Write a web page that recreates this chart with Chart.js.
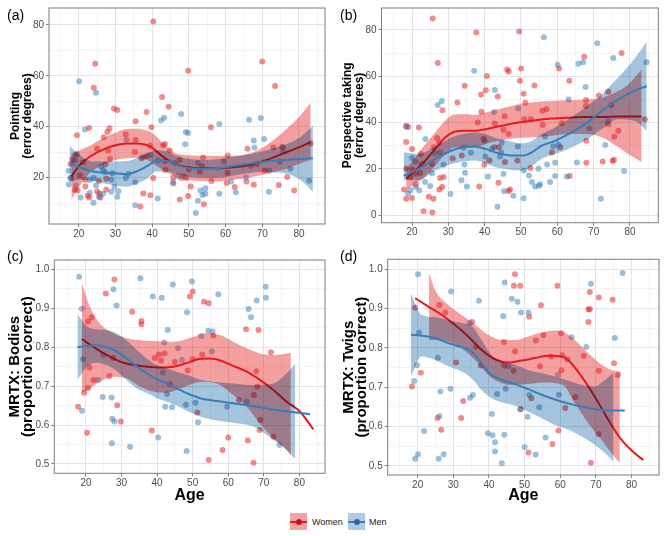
<!DOCTYPE html>
<html>
<head>
<meta charset="utf-8">
<script src="https://cdn.jsdelivr.net/npm/chart.js@4.4.1/dist/chart.umd.min.js"></script>
<style>
  body { margin: 0; background: #fff; width: 670px; height: 536px; position: relative; overflow: hidden;
         font-family: "Liberation Sans", Arial, sans-serif; }
  canvas { position: absolute; }
  .tag { position: absolute; font-size: 14px; line-height: 16px; color: #000; }
  .legend { position: absolute; top: 512px; left: 0; width: 670px; height: 19px; }
  .key { position: absolute; top: 1px; width: 17px; height: 17px; }
  .key .ln { position: absolute; left: 0; top: 7.5px; width: 17px; height: 2px; }
  .key .dot { position: absolute; left: 5.5px; top: 5.5px; width: 6px; height: 6px; border-radius: 50%; }
  .lab { position: absolute; top: 4px; font-size: 9px; line-height: 12px; color: #222; }
</style>
</head>
<body>
<canvas id="chartA" width="335" height="245" style="left:0;top:0"></canvas>
<canvas id="chartB" width="335" height="245" style="left:335px;top:0"></canvas>
<canvas id="chartC" width="335" height="265" style="left:0;top:245px"></canvas>
<canvas id="chartD" width="335" height="265" style="left:335px;top:245px"></canvas>
<div class="tag" style="left:7px;top:7px">(a)</div>
<div class="tag" style="left:340px;top:7px">(b)</div>
<div class="tag" style="left:7px;top:248px">(c)</div>
<div class="tag" style="left:340px;top:248px">(d)</div>
<div class="legend">
  <div class="key" style="left:290px;background:rgba(228,26,28,0.4)"><div class="ln" style="background:#E41A1C"></div><div class="dot" style="background:#c0151a"></div></div>
  <div class="lab" style="left:312px">Women</div>
  <div class="key" style="left:348px;background:rgba(55,126,184,0.4)"><div class="ln" style="background:#377EB8"></div><div class="dot" style="background:#2d6a9c"></div></div>
  <div class="lab" style="left:369px">Men</div>
</div>
<script>
// ---- tick values ----
const ageTicks = [20, 30, 40, 50, 60, 70, 80];
const ageMinor = [15, 25, 35, 45, 55, 65, 75, 85];
const errTicksA = [20, 40, 60, 80];
const errMinorA = [10, 30, 50, 70];
const errTicksB = [0, 20, 40, 60, 80];
const errMinorB = [10, 30, 50, 70];
const propTicks = [0.5, 0.6, 0.7, 0.8, 0.9, 1.0];
const propMinor = [0.55, 0.65, 0.75, 0.85, 0.95];

// ---- (a) Pointing: [age, error] ----
const pointingWomen = [[40.3,81.3],[24.5,64.7],[49.8,62],[70,65.6],[73.5,56],[24.1,55.3],[42.7,51.7],[44.5,47.8],[29.6,47.1],[30.5,46.6],[38.5,45.8],[35.5,42.1],[19.5,36.6],[22.8,39.5],[28.4,39.4],[27.8,37.9],[39.8,39.8],[56,39.8],[32.8,37],[26.8,35.9],[35.5,34.8],[43.5,33.2],[43,32.7],[66,31.3],[73,31.8],[75.5,31.9],[83.2,33.4],[25,31.3],[28,30.7],[35.3,30.1],[39.5,32.5],[44.8,30.7],[60.6,28.7],[19.5,29.2],[18.3,27.2],[28.5,27.3],[37.1,27.6],[38.5,28.5],[43.5,26.5],[47.5,26.9],[53.9,27.9],[68.5,25.4],[17.8,25.4],[21.2,26],[27.3,25.3],[43.6,23],[50,23.3],[53,22.4],[53.6,24.5],[60.6,21.8],[70.7,22.8],[17.9,19.9],[20.3,20.8],[21.8,19.2],[25.5,18.7],[27.5,19.6],[40.3,19.9],[45.8,20.1],[48,19.9],[49.2,19.9],[60.3,17.9],[62.5,16.3],[65.7,18.5],[67.7,17.2],[74.5,17.1],[76.8,20.3],[78.7,15],[56.2,18.7],[19,15.2],[19.7,15],[21.8,16.5],[22.4,12.9],[22.9,12.2],[25,14.6],[25.7,13.7],[25.9,12.2],[27.5,15.2],[37.6,13.8],[39.5,13.1],[45.8,17.7],[47.5,11.4],[49.8,12.8],[50.5,16.5],[54.1,9.6],[36.8,8.7]];
const pointingMen = [[20.1,57.8],[24.7,53.3],[21.7,38.9],[42.4,42.4],[43.3,43.5],[47.9,45],[49.2,37.9],[49.8,37.5],[49,33.1],[58.3,41.1],[66.4,42.7],[69.6,43.4],[67.7,34.6],[70.5,35.2],[67.9,31.8],[75.5,32.1],[75.8,30.1],[33,34.9],[37.5,28.1],[39.5,28.9],[41.6,26.8],[19.3,29.1],[19,26.7],[17.2,22.7],[26.2,24.4],[26.6,23.1],[27.2,22.1],[29.1,21.7],[33.6,21.5],[32.8,19.9],[28.9,19.2],[24.1,19.9],[23,19.1],[17.7,19.9],[17.3,17.3],[19.2,17],[24.7,16.9],[29.7,16.4],[28.9,14.5],[30.8,14.7],[30.5,12.5],[26.6,13.7],[25.5,12.5],[23,14.1],[20.5,12.2],[24,10.1],[35.4,9.2],[35.4,18.2],[41.5,11.8],[45.7,18.3],[47.1,20.5],[48.6,20.6],[52.5,25.7],[53.2,15],[53.7,13.2],[54.5,15.8],[54.5,13.7],[52.5,10.9],[51.9,6.1],[58.3,13.7],[59.6,26.3],[61.5,18.5],[62.8,14.3],[65.6,20.1],[67,24.6],[71.8,14.5],[71.9,22.8],[77.7,23.5],[82.8,18.8],[74.8,26.3],[46.2,25.7]];
const pointingWomenAge = [18, 20.3, 23, 26.6, 30.3, 33, 35.7, 38.5, 40.3, 43, 45.7, 48.5, 53, 57.5, 62, 66.6, 71.2, 75.7, 80.3, 83.2];
const pointingWomenFit = [20.5, 25, 28.2, 31, 32.8, 33.4, 33.4, 32.8, 31.4, 28.2, 25.7, 24.4, 23.7, 23.7, 24.1, 25, 26.9, 29.5, 32.1, 34];
const pointingWomenHi = [29.5, 30.8, 32.5, 35.5, 37.8, 39.1, 39.2, 38.5, 37.2, 33.4, 30.1, 29, 28.6, 28.6, 28.6, 29.5, 32.7, 37.9, 44.3, 49.5];
const pointingWomenLo = [11.3, 16.7, 21.8, 25, 27, 27.6, 27.8, 27, 25.5, 23, 20.8, 19.4, 18.7, 18.6, 19.2, 20.1, 21.4, 23.1, 25.6, 27];
const pointingMenAge = [17.5, 20.3, 24, 28.5, 33, 35.7, 38.5, 41.2, 44, 46.6, 50.3, 54.8, 59.4, 63.9, 69.4, 75.7, 80.3, 83.8];
const pointingMenFit = [25.5, 24.1, 22.4, 21.8, 21.4, 22.4, 24.4, 26.5, 26.5, 25, 23.7, 23.5, 24, 25, 26, 26.9, 27.3, 27.6];
const pointingMenHi = [32.5, 28.9, 26.3, 26.3, 26.5, 27.6, 29.5, 30.8, 30.4, 28.6, 27.3, 26.9, 27.6, 28.6, 30.1, 32.7, 35.9, 40.4];
const pointingMenLo = [18, 19.2, 18.6, 17.3, 16.4, 17.6, 19.5, 22.4, 22.4, 21.2, 20.3, 19.9, 20.1, 21.2, 22.2, 21.8, 19.2, 14.5];

// ---- (b) Perspective taking ----
const perspWomen = [[25.7,85],[37.7,78.9],[49.5,79.3],[27.1,65.7],[77.7,70],[67.4,68.4],[46.2,62.9],[46.6,62.1],[50,63.3],[60.5,63.3],[40.6,60.1],[49.7,58.1],[63.3,58.1],[34.5,55.9],[53.7,56],[40.3,53.9],[39,52.1],[43.6,51.3],[50.7,52.4],[51.2,48.6],[71.4,51.7],[74,53.3],[32.5,48.7],[28.4,45.3],[39.1,44.7],[55.9,45.1],[57,45.7],[45.5,42.7],[67.9,49.7],[67.9,47.1],[74.9,47.6],[18.4,38.6],[19,38.1],[21.9,37.9],[18.4,31.6],[20,28.6],[26.9,33.3],[27.5,31.4],[26,29.3],[38.1,40],[42.8,39.6],[50.9,41.4],[52.7,41.4],[56,38.9],[61.2,39.7],[39.7,32.9],[43.9,29.3],[45.2,36.9],[46.6,35],[60.8,29.3],[58.5,27],[68,32.1],[74,39.3],[76.8,36.4],[75.7,33.9],[84.1,41.4],[22.4,26.4],[25.5,22.1],[22.2,18.3],[18.4,20],[20.1,19.6],[21,17.9],[19.5,16.4],[21.1,13.3],[31.2,24.6],[33.7,25.7],[39.9,21.7],[41.3,23.6],[45.6,22.9],[49,23.6],[52.6,20.3],[68,22.6],[72.5,23.1],[75.2,23.4],[75.6,23.9],[63.4,16.9],[27.7,16],[28.3,12.1],[38.5,12.4],[43.8,14],[47,11.1],[46.6,10.4],[17.8,11.1],[20,7.4],[18.4,7],[24.6,7.9],[25.9,7],[27.5,11.1],[23.2,1.7],[25.6,1.1],[28.7,16.4],[42.6,29.3],[22.7,22.1]];
const perspMen = [[56.3,76.9],[71,74.3],[75.4,67.9],[84.6,66],[65.8,65.4],[67.1,66],[60.1,65],[37.1,62.4],[42.8,54.1],[67.8,55.3],[63.1,50],[28.2,49.3],[27.1,47.6],[49.2,46.1],[42.6,44.6],[18.4,38.1],[23.7,32.9],[34.2,29.1],[56.6,34],[73.2,30.3],[68.8,37.4],[74,40.4],[49.1,29.6],[60.3,30.4],[58.9,29.6],[40,32.1],[42,28.6],[40.2,25.3],[44.2,25.3],[44.5,27.1],[44.7,31.4],[27.7,27.1],[36.2,26.9],[34.4,21.9],[28.7,21.7],[20,24.7],[21,23.1],[25.5,18.1],[34.6,18.3],[45.2,17.9],[50.8,19.3],[54.8,20],[57.2,21.9],[59.4,22.6],[65.4,22.7],[78.4,19],[40.9,16.7],[52.2,17.1],[62.6,16.7],[59.4,16.9],[23.6,14.3],[25,12.6],[21,12.1],[22,10.7],[19.5,10.7],[18.9,9.3],[33.6,15],[35.1,12.4],[30.6,9.1],[45.4,10.3],[47.9,8.4],[50.7,7.3],[53,14.3],[53.9,12.4],[54.9,12.7],[55.3,13.3],[58,14.3],[72,7.1],[43.5,3.6],[26.2,26.7]];
const perspWomenAge = [18.4, 20.9, 23.7, 26.4, 29.2, 31.9, 34.7, 37.4, 40.2, 44.7, 49.3, 53.9, 58.5, 63, 67.6, 72.2, 76.8, 79.5, 83.2];
const perspWomenFit = [15.7, 19.3, 23.6, 28.6, 33.6, 36.1, 36.4, 36.4, 37.1, 38.6, 40, 41, 41.7, 42.1, 42.4, 42.4, 42.6, 42.6, 42.6];
const perspWomenHi = [20, 25, 30.7, 35.7, 41, 43.6, 43.6, 43.3, 44.3, 46.1, 47.9, 48.9, 49.3, 49.6, 50, 50.7, 53.6, 56.4, 62.9];
const perspWomenLo = [10.7, 13.6, 16.9, 21.4, 26.4, 29.3, 29.3, 29.3, 30.7, 32.4, 33.3, 33.6, 34.3, 35, 35, 33.6, 29.3, 26.4, 22.9];
const perspMenAge = [17.7, 21.8, 26.4, 31, 34.2, 37.4, 40.2, 42.9, 45.6, 48.4, 50.7, 53, 55.7, 59.4, 63, 67.6, 72.2, 76.8, 81.4, 84.6];
const perspMenFit = [16.9, 20, 24.3, 27.9, 29.3, 29.6, 28.6, 27.1, 26.1, 25.7, 25.7, 27.1, 30, 32.1, 35, 39.3, 45, 50, 53.9, 55.7];
const perspMenHi = [27.1, 26.4, 29.6, 33.6, 35, 35.7, 35, 33.3, 32.4, 31.4, 31, 32.1, 35, 37.9, 41.4, 46.4, 52.1, 59.6, 67.9, 75];
const perspMenLo = [15, 15, 19.3, 22.1, 23.3, 23.6, 22.4, 20.7, 20, 19.3, 19.3, 21.1, 24.3, 26.4, 28.6, 32.1, 37.1, 41.4, 40.7, 36.4];

// ---- (c) MRTX: Bodies ----
const bodiesWomen = [[28,0.974],[25.6,0.938],[33,0.891],[35.6,0.867],[35.6,0.859],[50,0.943],[49.2,0.930],[53.2,0.917],[54.5,0.913],[65,0.846],[68.5,0.844],[55.8,0.830],[72,0.787],[21.6,0.877],[20.6,0.866],[39.3,0.772],[40.5,0.781],[42.1,0.784],[27.7,0.772],[50,0.769],[45,0.762],[48.6,0.740],[52.7,0.781],[41.1,0.765],[21,0.748],[26.6,0.726],[22.1,0.716],[20.6,0.695],[19.5,0.683],[43.6,0.705],[67.9,0.738],[68.2,0.699],[67.2,0.677],[17.8,0.647],[28.8,0.651],[29.8,0.609],[20.3,0.580],[38.5,0.586],[51.3,0.632],[60,0.568],[58.4,0.536],[54.5,0.510],[65.5,0.560],[69,0.613],[68.8,0.587],[67.1,0.503],[72.7,0.570],[63,0.664]];
const bodiesMen = [[18.1,0.981],[35.3,0.977],[44.4,0.961],[49.8,0.969],[27.7,0.949],[57.2,0.936],[70.5,0.955],[70.6,0.927],[38.8,0.930],[41.3,0.927],[28.6,0.907],[68,0.920],[18.8,0.899],[48.4,0.890],[65.7,0.898],[66.4,0.877],[43,0.844],[54.4,0.842],[55.6,0.840],[52.4,0.829],[42,0.812],[45.9,0.797],[47,0.767],[55.4,0.789],[24.9,0.780],[19.2,0.769],[41.6,0.735],[23.4,0.716],[42.8,0.680],[24.7,0.672],[27.2,0.671],[42.3,0.647],[44.2,0.646],[48.1,0.652],[50.8,0.657],[59.7,0.647],[65.2,0.660],[18.9,0.637],[27.4,0.616],[28,0.609],[51.5,0.607],[27.3,0.553],[40.3,0.568],[32.4,0.544],[48.3,0.533],[74.4,0.549]];
const bodiesWomenAge = [18.8, 22.1, 25.8, 29.6, 33.3, 37.1, 40.8, 44.6, 48.3, 52.1, 54.9, 57.7, 61.4, 65.2, 68.9, 72.7, 76.4, 80.2, 83.9];
const bodiesWomenFit = [0.821, 0.801, 0.780, 0.763, 0.754, 0.750, 0.748, 0.750, 0.759, 0.770, 0.771, 0.766, 0.752, 0.737, 0.716, 0.690, 0.660, 0.634, 0.589];
const bodiesWomenBandAge = [18.8, 21.1, 23.9, 27.7, 31.4, 35.2, 38.9, 42.7, 46.4, 50.2, 53.9, 57.7, 61.4, 65.2, 68.9, 72.7, 76.4, 77.6];
const bodiesWomenHi = [0.964, 0.904, 0.861, 0.836, 0.823, 0.818, 0.816, 0.814, 0.816, 0.827, 0.836, 0.831, 0.814, 0.797, 0.784, 0.780, 0.784, 0.786];
const bodiesWomenLo = [0.682, 0.694, 0.711, 0.724, 0.720, 0.699, 0.686, 0.683, 0.693, 0.707, 0.711, 0.703, 0.677, 0.647, 0.604, 0.566, 0.536, 0.521];
const bodiesMenAge = [17.6, 20.2, 23, 25.8, 28.6, 31.4, 34.3, 37.1, 39.9, 42.7, 45.5, 48.3, 52.1, 55.8, 61.4, 67.1, 72.7, 77.4, 83];
const bodiesMenFit = [0.800, 0.803, 0.805, 0.800, 0.789, 0.771, 0.750, 0.733, 0.718, 0.707, 0.694, 0.682, 0.669, 0.663, 0.656, 0.649, 0.639, 0.634, 0.628];
const bodiesMenBandAge = [17.6, 20.2, 23, 25.8, 28.6, 31.4, 34.3, 37.1, 39.9, 42.7, 45.5, 48.3, 52.1, 55.8, 61.4, 67.1, 72.7, 76.4, 78.8];
const bodiesMenHi = [0.885, 0.854, 0.846, 0.844, 0.836, 0.818, 0.793, 0.771, 0.754, 0.746, 0.737, 0.729, 0.717, 0.711, 0.707, 0.703, 0.707, 0.733, 0.757];
const bodiesMenLo = [0.716, 0.750, 0.760, 0.754, 0.739, 0.716, 0.694, 0.682, 0.669, 0.660, 0.650, 0.637, 0.622, 0.613, 0.606, 0.596, 0.562, 0.536, 0.513];

// ---- (d) MRTX: Twigs ----
const twigsWomen = [[47.3,0.987],[47,0.958],[48.8,0.958],[59.2,0.958],[68.3,0.942],[70.8,0.928],[74.7,0.922],[26.1,0.909],[54.6,0.908],[67.9,0.898],[68.3,0.898],[19.3,0.902],[27.7,0.890],[51.3,0.879],[35.3,0.866],[67.9,0.866],[55.3,0.832],[60.2,0.837],[53.2,0.819],[44.2,0.815],[36.4,0.803],[47.3,0.791],[60.6,0.781],[66.6,0.780],[57.4,0.778],[62,0.771],[30.8,0.763],[37.7,0.755],[44.3,0.755],[54.3,0.753],[75.1,0.761],[60.4,0.743],[46.9,0.742],[70.8,0.742],[76.2,0.731],[20.9,0.737],[18.4,0.702],[64.2,0.675],[51.9,0.672],[32.8,0.665],[48.8,0.644],[61.4,0.647],[25.6,0.622],[32.2,0.622],[26.6,0.592],[59.5,0.590],[70.8,0.581],[57.8,0.556],[51.1,0.534],[68.6,0.508]];
const twigsMen = [[20.1,0.987],[77.5,0.990],[44.4,0.966],[68.6,0.963],[29.4,0.943],[37.2,0.920],[46.4,0.925],[48,0.917],[49,0.890],[51.1,0.890],[44,0.880],[34.6,0.864],[20.4,0.839],[63.2,0.827],[75.3,0.825],[67.3,0.802],[25.7,0.775],[19.8,0.756],[45.5,0.754],[59.4,0.732],[19,0.716],[44.7,0.696],[29.2,0.696],[42.3,0.683],[26.4,0.689],[59.6,0.681],[35.5,0.680],[34.7,0.673],[51.3,0.680],[54.1,0.649],[48.9,0.644],[50.8,0.625],[26.1,0.627],[40.8,0.632],[21.8,0.589],[39.7,0.583],[41,0.578],[44.3,0.579],[55.9,0.572],[41.7,0.560],[41.7,0.537],[50,0.548],[53.1,0.529],[20.1,0.530],[19.3,0.518],[25.9,0.518],[27.3,0.530],[43.6,0.507]];
const twigsWomenAge = [19.3, 23, 26.7, 30.5, 34.2, 37.9, 41.7, 45.4, 49.2, 52.9, 56.6, 60.4, 62.2, 66, 69.7, 73.5, 77.2, 80.9, 83.3];
const twigsWomenFit = [0.926, 0.905, 0.884, 0.858, 0.829, 0.795, 0.771, 0.763, 0.768, 0.774, 0.780, 0.778, 0.769, 0.727, 0.676, 0.617, 0.566, 0.532, 0.515];
const twigsWomenBandAge = [23.2, 24.9, 28.6, 32.3, 36.1, 39.8, 43.6, 47.3, 51, 54.8, 58.5, 61.3, 64.1, 67.9, 71.6, 74.4, 76.7];
const twigsWomenHi = [0.990, 0.947, 0.909, 0.884, 0.858, 0.833, 0.820, 0.820, 0.829, 0.839, 0.844, 0.839, 0.820, 0.786, 0.757, 0.744, 0.740];
const twigsWomenLo = [0.820, 0.820, 0.816, 0.799, 0.769, 0.731, 0.710, 0.706, 0.708, 0.712, 0.710, 0.702, 0.659, 0.608, 0.566, 0.532, 0.507];
const twigsMenAge = [18.1, 21.1, 24.9, 28.6, 32.3, 35.1, 37.9, 40.7, 43.6, 47.3, 51, 54.8, 58.5, 62.2, 66, 69.7, 73.5, 78.1];
const twigsMenFit = [0.833, 0.831, 0.825, 0.812, 0.802, 0.791, 0.761, 0.731, 0.719, 0.708, 0.695, 0.681, 0.669, 0.659, 0.651, 0.644, 0.641, 0.641];
const twigsMenBandAge = [18.1, 21.1, 24.9, 28.6, 32.3, 35.1, 37.9, 40.7, 43.6, 47.3, 51, 54.8, 58.5, 62.2, 66, 69.7, 72.6, 74.9];
const twigsMenHi = [0.939, 0.884, 0.878, 0.871, 0.863, 0.856, 0.820, 0.782, 0.765, 0.757, 0.744, 0.736, 0.727, 0.717, 0.706, 0.702, 0.719, 0.736];
const twigsMenLo = [0.727, 0.778, 0.769, 0.753, 0.740, 0.723, 0.693, 0.672, 0.662, 0.653, 0.638, 0.621, 0.604, 0.592, 0.575, 0.553, 0.532, 0.511];

// ---- styling ----
const FONT = '"Liberation Sans", Arial, sans-serif';
const RED = '228,26,28';
const BLUE = '55,126,184';
const GRID_MAJOR = '#e4e4e4';
const GRID_MINOR = '#f1f1f1';
const FRAME = '#7d7d7d';
const TICK_TEXT = '#4d4d4d';

Chart.defaults.font.family = FONT;
Chart.defaults.animation = false;

const toPoints = (pairs) => pairs.map(([x, y]) => ({x, y}));
const zipXY = (xs, ys) => xs.map((x, i) => ({x, y: ys[i]}));

function makeTicks(major, minor) {
    return major.map(v => ({value: v, main: true}))
        .concat(minor.map(v => ({value: v, main: false})))
        .sort((a, b) => a.value - b.value);
}

// draws the panel frame and multiplies the Men ribbon over what is below it
const panelPlugin = {
    id: 'panel',
    afterDatasetDraw(chart, args) {
        const ds = chart.data.datasets[args.index];
        if (ds.blendStart) chart.ctx.globalCompositeOperation = 'multiply';
        if (ds.blendEnd) chart.ctx.globalCompositeOperation = 'source-over';
    },
    afterDatasetsDraw(chart) {
        const {ctx, chartArea} = chart;
        ctx.save();
        ctx.globalCompositeOperation = 'source-over';
        ctx.strokeStyle = FRAME;
        ctx.lineWidth = 1;
        ctx.strokeRect(chartArea.left, chartArea.top, chartArea.right - chartArea.left, chartArea.bottom - chartArea.top);
        ctx.restore();
    }
};

function scatterSet(pairs, rgb, order) {
    return {data: toPoints(pairs), showLine: false, pointRadius: 3, pointHoverRadius: 3,
            pointBorderWidth: 0, backgroundColor: 'rgba(' + rgb + ',0.5)', borderColor: 'rgba(0,0,0,0)', order};
}

function curveSet(xs, ys, extra) {
    return Object.assign({data: zipXY(xs, ys), pointRadius: 0, borderWidth: 0,
            cubicInterpolationMode: 'monotone', fill: false}, extra);
}

function buildPanel(id, p) {
    const datasets = [
        scatterSet(p.women, RED, 9),
        scatterSet(p.men, BLUE, 8),
        curveSet(p.wBandAge, p.wHi, {order: 7}),
        curveSet(p.wBandAge, p.wLo, {order: 6, fill: '-1', backgroundColor: 'rgba(' + RED + ',0.42)'}),
        curveSet(p.wAge, p.wFit, {order: 5, borderWidth: 2, borderColor: 'rgb(' + RED + ')'}),
        curveSet(p.mBandAge, p.mHi, {order: 4, blendStart: true}),
        curveSet(p.mBandAge, p.mLo, {order: 3, fill: '-1', backgroundColor: 'rgba(' + BLUE + ',0.45)', blendEnd: true}),
        curveSet(p.mAge, p.mFit, {order: 2, borderWidth: 2, borderColor: 'rgb(' + BLUE + ')'})
    ];

    const gridOpts = {
        color: c => (c.tick && c.tick.main) ? GRID_MAJOR : GRID_MINOR,
        lineWidth: c => (c.tick && c.tick.main) ? 1 : 0.8,
        tickColor: c => (c.tick && c.tick.main) ? FRAME : 'rgba(0,0,0,0)',
        tickLength: 3,
        drawTicks: true
    };

    new Chart(document.getElementById(id), {
        type: 'line',
        data: {datasets},
        options: {
            responsive: false,
            layout: {padding: {left: 0, right: p.padRight, top: p.padTop, bottom: 0}},
            plugins: {legend: {display: false}, tooltip: {enabled: false}},
            scales: {
                x: {
                    type: 'linear', min: p.xMin, max: p.xMax,
                    afterBuildTicks: s => { s.ticks = makeTicks(ageTicks, ageMinor); },
                    afterFit: s => { s.height = p.xAxisH; },
                    grid: gridOpts,
                    border: {display: false},
                    ticks: {autoSkip: false, maxRotation: 0, padding: 1, color: TICK_TEXT, font: {size: 10},
                            callback: (v, i, t) => t[i].main ? String(v) : ''},
                    title: p.xTitle ? {display: true, text: p.xTitle, color: '#000',
                            font: {size: 16, weight: 'bold', lineHeight: 1}, padding: {top: 0, bottom: 6}} : {display: false}
                },
                y: {
                    type: 'linear', min: p.yMin, max: p.yMax,
                    afterBuildTicks: s => { s.ticks = makeTicks(p.yTicks, p.yMinor); },
                    afterFit: s => { s.width = p.yAxisW; },
                    grid: gridOpts,
                    border: {display: false},
                    ticks: {autoSkip: false, padding: 2, color: TICK_TEXT, font: {size: 10},
                            callback: (v, i, t) => t[i].main ? p.fmt(v) : ''},
                    title: {display: true, text: p.yTitle, color: '#000',
                            font: {size: p.yTitleSize, weight: 'bold', lineHeight: p.yTitleLH},
                            padding: {top: p.yTitlePad, bottom: 0}}
                }
            }
        },
        plugins: [panelPlugin]
    });
}

buildPanel('chartA', {
    women: pointingWomen, men: pointingMen,
    wAge: pointingWomenAge, wFit: pointingWomenFit, wBandAge: pointingWomenAge, wHi: pointingWomenHi, wLo: pointingWomenLo,
    mAge: pointingMenAge, mFit: pointingMenFit, mBandAge: pointingMenAge, mHi: pointingMenHi, mLo: pointingMenLo,
    xMin: 11.9, xMax: 87.1, yMin: 1.8, yMax: 86.6, yTicks: errTicksA, yMinor: errMinorA, fmt: v => String(v),
    padTop: 5, padRight: 10, yAxisW: 49, xAxisH: 21,
    yTitle: ['Pointing', '(error degrees)'], yTitleSize: 12, yTitleLH: 1, yTitlePad: 10
});

buildPanel('chartB', {
    women: perspWomen, men: perspMen,
    wAge: perspWomenAge, wFit: perspWomenFit, wBandAge: perspWomenAge, wHi: perspWomenHi, wLo: perspWomenLo,
    mAge: perspMenAge, mFit: perspMenFit, mBandAge: perspMenAge, mHi: perspMenHi, mLo: perspMenLo,
    xMin: 11.6, xMax: 87.8, yMin: -3.3, yMax: 89.5, yTicks: errTicksB, yMinor: errMinorB, fmt: v => String(v),
    padTop: 7, padRight: 11.7, yAxisW: 46.5, xAxisH: 22.3,
    yTitle: ['Perspective taking', '(error degrees)'], yTitleSize: 12, yTitleLH: 1, yTitlePad: 7
});

buildPanel('chartC', {
    women: bodiesWomen, men: bodiesMen,
    wAge: bodiesWomenAge, wFit: bodiesWomenFit, wBandAge: bodiesWomenBandAge, wHi: bodiesWomenHi, wLo: bodiesWomenLo,
    mAge: bodiesMenAge, mFit: bodiesMenFit, mBandAge: bodiesMenBandAge, mHi: bodiesMenHi, mLo: bodiesMenLo,
    xMin: 11.1, xMax: 87.2, yMin: 0.476, yMax: 1.024, yTicks: propTicks, yMinor: propMinor, fmt: v => v.toFixed(1),
    padTop: 15, padRight: 10, yAxisW: 54.3, xAxisH: 36.7, xTitle: 'Age',
    yTitle: ['MRTX: Bodies', '(proportion correct)'], yTitleSize: 15, yTitleLH: 0.867, yTitlePad: 8
});

buildPanel('chartD', {
    women: twigsWomen, men: twigsMen,
    wAge: twigsWomenAge, wFit: twigsWomenFit, wBandAge: twigsWomenBandAge, wHi: twigsWomenHi, wLo: twigsWomenLo,
    mAge: twigsMenAge, mFit: twigsMenFit, mBandAge: twigsMenBandAge, mHi: twigsMenHi, mLo: twigsMenLo,
    xMin: 11.6, xMax: 87.7, yMin: 0.477, yMax: 1.025, yTicks: propTicks, yMinor: propMinor, fmt: v => v.toFixed(1),
    padTop: 14.3, padRight: 11, yAxisW: 52.7, xAxisH: 35, xTitle: 'Age',
    yTitle: ['MRTX: Twigs', '(proportion correct)'], yTitleSize: 15, yTitleLH: 0.867, yTitlePad: 7
});
</script>
</body>
</html>
